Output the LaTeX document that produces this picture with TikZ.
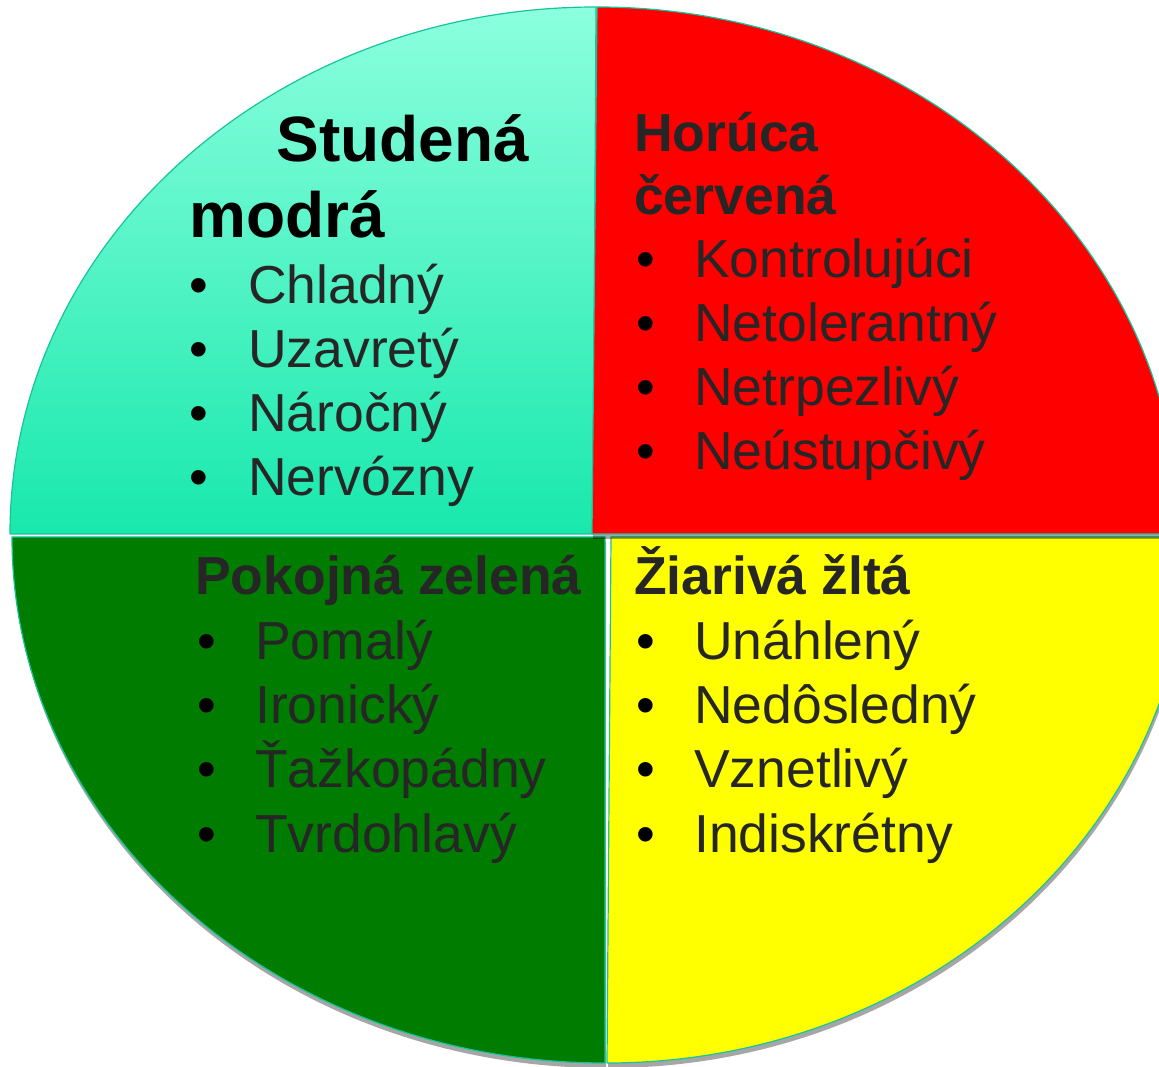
\documentclass[tikz,border=0pt]{standalone}
\usepackage{fontspec}
\setmainfont{Liberation Sans}
\usetikzlibrary{shadows}
\definecolor{edgeteal}{RGB}{22,196,156}
\definecolor{bluetop}{RGB}{140,255,222}
\definecolor{bluebot}{RGB}{24,232,172}
\definecolor{grn}{RGB}{0,124,0}
\definecolor{redfill}{RGB}{255,0,0}
\definecolor{yelfill}{RGB}{255,255,0}
\definecolor{txt}{RGB}{38,38,38}
\begin{document}
\begin{tikzpicture}[x=1pt,y=1pt,
  piece/.style={draw=edgeteal, line width=1.2pt, line join=round},
  pshadow/.style={drop shadow={shadow xshift=1pt, shadow yshift=-5pt, opacity=0.35, fill=black}},
  bigtitle/.style={inner sep=0pt, anchor=base west, font=\fontsize{64}{76}\selectfont\bfseries, text=black},
  title/.style={inner sep=0pt, anchor=base west, font=\fontsize{53.5}{64}\selectfont\bfseries, text=txt},
  item/.style={inner sep=0pt, anchor=base west, font=\fontsize{53.5}{64}\selectfont, text=txt},
  bul/.style={inner sep=0pt, anchor=base west, font=\fontsize{53.5}{64}\selectfont, text=black}]
\useasboundingbox (0,0) rectangle (1159,1066);
\fill[white] (0,0) rectangle (1159,1066);
\clip (0,0) rectangle (1159,1066);

% quadrants
\path[piece, top color=bluetop, bottom color=bluebot]
  (593,532) -- (10,532) arc[start angle=180, end angle=90, x radius=586, y radius=527] -- cycle;
\path[piece, pshadow, fill=grn]
  (605,529) -- (12,529) arc[start angle=180, end angle=270, x radius=593, y radius=526] -- cycle;
\path[piece, pshadow, fill=yelfill]
  (611,529) -- (607,3) arc[start angle=270, end angle=360, x radius=582, y radius=526] -- cycle;
\path[piece, pshadow, fill=redfill]
  (592,532) -- (597,1059) arc[start angle=90, end angle=0, x radius=582, y radius=527] -- cycle;

% blue: Studená modrá
\node[bigtitle] (bt1) at (276.5,904) {Studená};
\node[bigtitle] (bt2) at (189,828) {modrá};
\node[bul] (bb1) at (189,762) {•};
\node[bul] (bb2) at (189,698) {•};
\node[bul] (bb3) at (189,634) {•};
\node[bul] (bb4) at (189,570) {•};
\node[item] (bi1) at (248,762) {Chladný};
\node[item] (bi2) at (248,698) {Uzavretý};
\node[item] (bi3) at (248,634) {Náročný};
\node[item] (bi4) at (248,570) {Nervózny};

% red: Horúca červená
\node[title] (rt1) at (634,914) {Horúca};
\node[title] (rt2) at (634,851) {červená};
\node[bul] (rb1) at (636,788) {•};
\node[bul] (rb2) at (636,724) {•};
\node[bul] (rb3) at (636,660) {•};
\node[bul] (rb4) at (636,596) {•};
\node[item] (ri1) at (694,788) {Kontrolujúci};
\node[item] (ri2) at (694,724) {Netolerantný};
\node[item] (ri3) at (694,660) {Netrpezlivý};
\node[item] (ri4) at (694,596) {Neústupčivý};

% green: Pokojná zelená
\node[title] (gt1) at (195,471) {Pokojná zelená};
\node[bul] (gb1) at (197,406) {•};
\node[bul] (gb2) at (197,342) {•};
\node[bul] (gb3) at (197,278) {•};
\node[bul] (gb4) at (197,214) {•};
\node[item] (gi1) at (255,406) {Pomalý};
\node[item] (gi2) at (255,342) {Ironický};
\node[item] (gi3) at (255,278) {Ťažkopádny};
\node[item] (gi4) at (255,214) {Tvrdohlavý};

% yellow: Žiarivá žltá
\node[title] (yt1) at (634,471) {Žiarivá žltá};
\node[bul] (yb1) at (636,406) {•};
\node[bul] (yb2) at (636,342) {•};
\node[bul] (yb3) at (636,278) {•};
\node[bul] (yb4) at (636,214) {•};
\node[item] (yi1) at (694,406) {Unáhlený};
\node[item] (yi2) at (694,342) {Nedôsledný};
\node[item] (yi3) at (694,278) {Vznetlivý};
\node[item] (yi4) at (694,214) {Indiskrétny};
\end{tikzpicture}
\end{document}
